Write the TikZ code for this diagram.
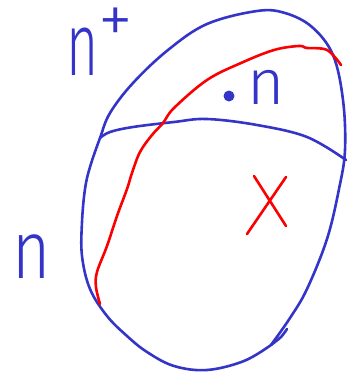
\documentclass[tikz,border=0pt]{standalone}
\usepackage{fontspec}
\newfontfamily\hand{Fira Sans Light}
\definecolor{penblue}{RGB}{52,52,200}
\definecolor{penred}{RGB}{250,0,0}
\tikzset{
  bluestroke/.style={draw=penblue, line width=2.6pt, line cap=round, line join=round},
  redstroke/.style={draw=penred, line width=2.6pt, line cap=round, line join=round},
  handlabel/.style={text=penblue, inner sep=0pt, font=\hand}
}
\begin{document}
\begin{tikzpicture}[x=1pt,y=-1pt]
\useasboundingbox (0,0) rectangle (348,378);
% outer loop
\draw[bluestroke] plot[smooth, tension=0.6] coordinates {
 (271,345) (290,318) (307,289) (327,239) (339,189) (345,150) (343,100)
 (333,55) (312,27) (285,13) (257,11) (207,24) (168,50) (133,83)
 (110,113) (100,138) (90,167) (85,189) (82,222) (82,256) (90,289) (107,316)
 (127,336) (147,352) (174,366) (207,370) (244,361) (271,345)};
% small hook
\draw[bluestroke] plot[smooth] coordinates {(271,345) (281,337) (287,329)};
% cross line
\draw[bluestroke] plot[smooth, tension=0.6] coordinates {
 (100,138) (110,132) (133,127) (174,122) (207,119) (257,125) (307,137) (346,160)};
% red curve
\draw[redstroke] plot[smooth, tension=0.6] coordinates {
 (341,65) (327,50) (307,48) (299,46) (274,50) (241,63) (207,80) (174,108)
 (163,123) (152,135) (140,152) (132,173) (127,189) (117,216) (107,246)
 (97,272) (96,287) (100,304)};
% red X
\coordinate (xa) at (254,176);
\coordinate (xb) at (286,226);
\coordinate (xc) at (286,177);
\coordinate (xd) at (247,234);
\draw[redstroke] (xa) -- (xb);
\draw[redstroke] (xc) -- (xd);
% dot
\fill[penblue] (229,96) circle (5.5pt);
% labels
\node[handlabel, font=\hand\fontsize{64}{64}\selectfont] (nr) at (266,87) {n};
\node[handlabel, font=\hand\fontsize{82}{82}\selectfont] (nl) at (32,257) {\scalebox{0.8}[1]{n}};
\node[handlabel, font=\hand\fontsize{89}{89}\selectfont, anchor=base west] (nt) at (66,75)
  {\scalebox{0.62}[1]{n}\raisebox{32pt}{\fontsize{70}{70}\selectfont +}};
\end{tikzpicture}
\end{document}
